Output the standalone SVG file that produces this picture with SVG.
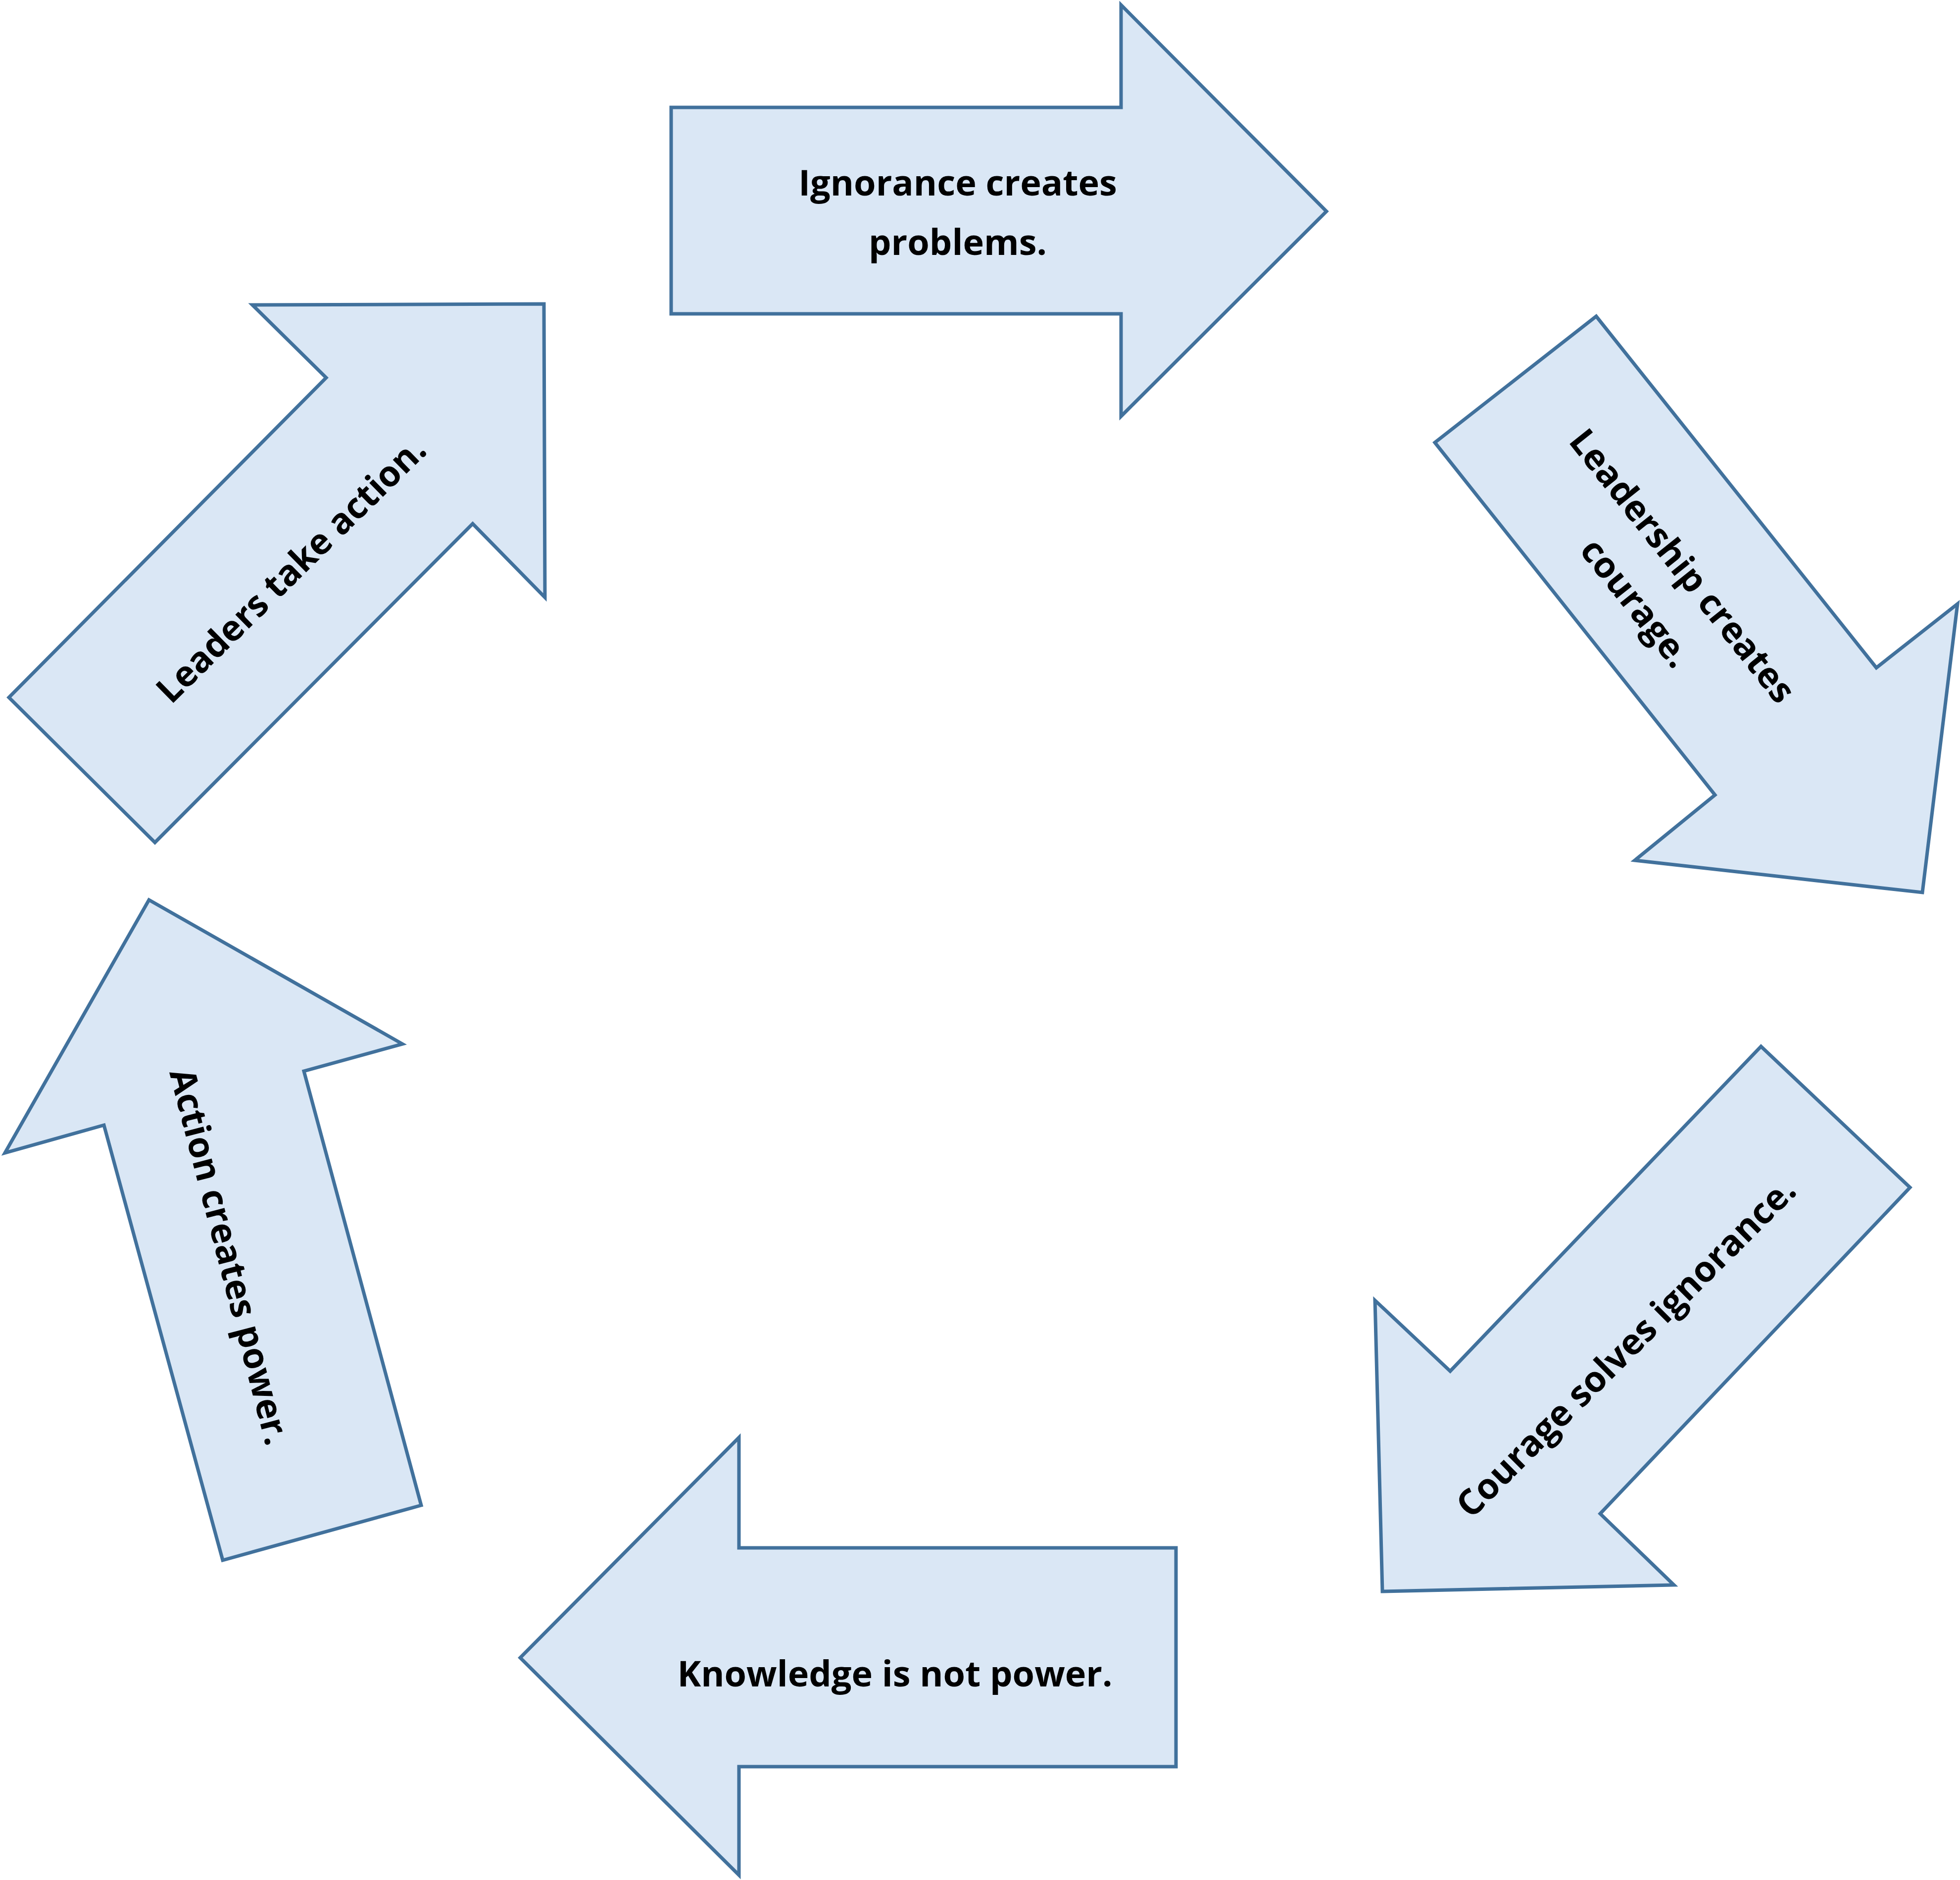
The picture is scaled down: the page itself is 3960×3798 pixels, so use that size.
<svg xmlns="http://www.w3.org/2000/svg" width="3960" height="3798" viewBox="0 0 3960 3798">
<style>
.a{fill:#dae7f5;stroke:#41719c;stroke-width:7;stroke-linejoin:miter}
.t{font-family:"Open Sans","Liberation Sans",sans-serif;font-weight:bold;font-size:72px;fill:#000;text-anchor:middle;dominant-baseline:central}
</style>
<rect width="3960" height="3798" fill="#fff"/>
<g id="arrow1"><polygon class="a" points="1356,217 2265,217 2265,10 2680,427 2265,841 2265,634 1356,634"/>
<text class="t" x="1935" y="367">Ignorance creates</text><text class="t" x="1935" y="487">problems.</text></g>
<g id="arrow2"><polygon class="a" points="2899,894 3225,639 3791,1349 3955,1220 3884,1803 3303,1738 3465,1606"/>
<g transform="translate(3353,1180) rotate(51.5)"><text class="t" x="0" y="-62">Leadership creates</text><text class="t" x="0" y="58">courage.</text></g></g>
<g id="arrow3"><polygon class="a" points="3558,2114 3859,2399 3233,3058 3382,3202 2793,3215 2778,2627 2930,2770"/>
<text class="t" transform="translate(3283,2720) rotate(-45)">Courage solves ignorance.</text></g>
<g id="arrow4"><polygon class="a" points="2376,3127 2376,3569 1493,3569 1493,3788 1051,3349 1493,2904 1493,3127"/>
<text class="t" x="1808" y="3379">Knowledge is not power.</text></g>
<g id="arrow5"><polygon class="a" points="851,3041 450,3152 210,2273 10,2329 301,1818 813,2109 614,2164"/>
<text class="t" transform="translate(467,2538) rotate(75.5)">Action creates power.</text></g>
<g id="arrow6"><polygon class="a" points="313,1702 18,1409 659,763 510,616 1099,614 1101,1207 955,1058"/>
<text class="t" transform="translate(586,1149) rotate(-44.5)">Leaders take action.</text></g>
<g id="connectors"/>
</svg>
